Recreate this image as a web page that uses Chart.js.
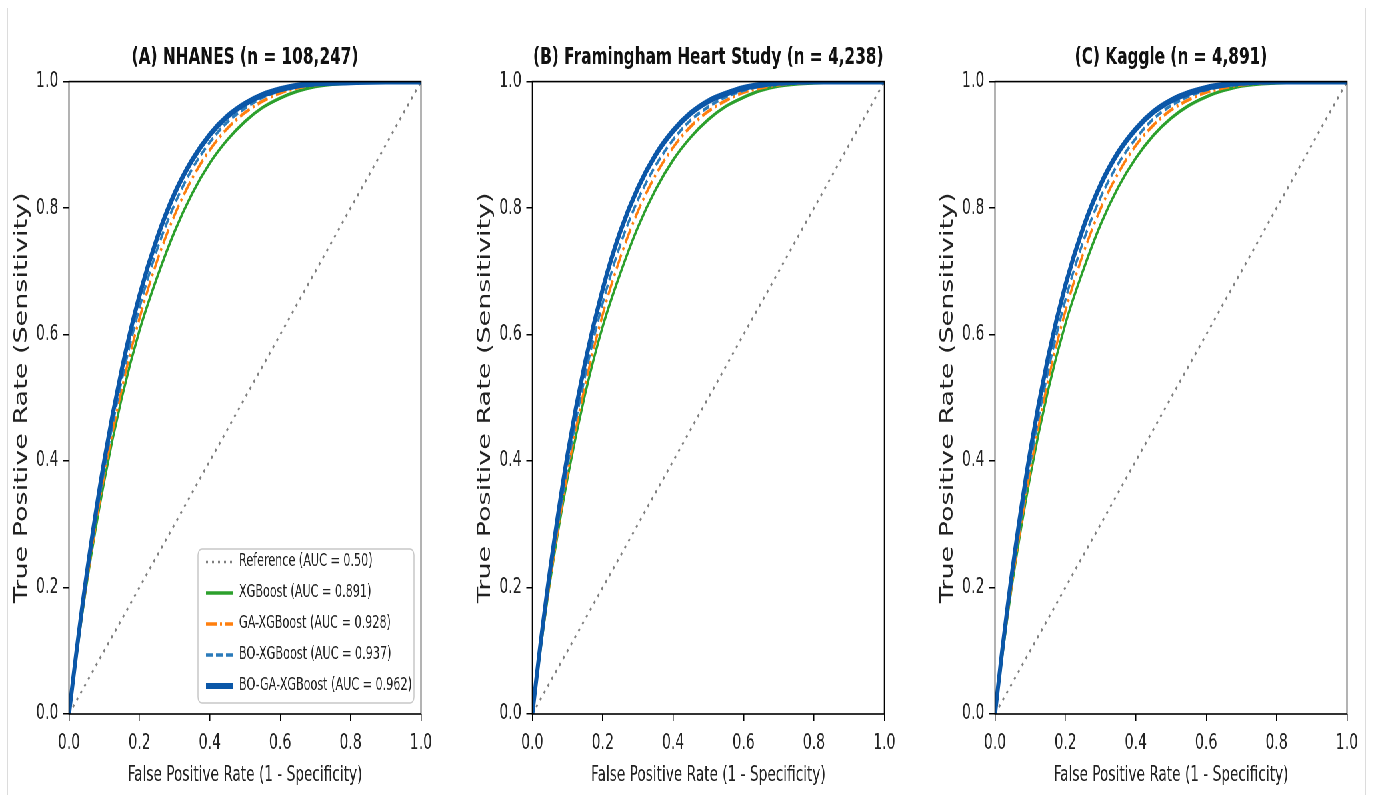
<!DOCTYPE html>
<html>
<head>
<meta charset="utf-8">
<title>ROC curves</title>
<script src="https://cdn.jsdelivr.net/npm/chart.js@4.4.1/dist/chart.umd.min.js"></script>
<style>
  html, body { margin: 0; padding: 0; background: #fff; overflow: hidden; }
  #page { position: relative; width: 1375px; height: 795px; overflow: hidden; background: #fff; }
  #squash { position: absolute; left: 0; top: 0; width: 2084px; height: 795px; transform: scaleX(0.6667); transform-origin: 0 0; }
  #squash canvas { position: absolute; top: 0; }
  .edge { position: absolute; top: 8px; bottom: 0; width: 1px; background: #dcdcdc; }
</style>
</head>
<body>
<div id="page">
  <div class="edge" style="left:7px"></div>
  <div class="edge" style="left:1365px"></div>
  <div id="squash">
    <canvas id="panelA" width="694" height="795" style="left:0px"></canvas>
    <canvas id="panelB" width="694" height="795" style="left:694.5px"></canvas>
    <canvas id="panelC" width="694" height="795" style="left:1389px"></canvas>
  </div>
</div>
<script>
// values
const fpr = [0, 0.02, 0.05, 0.1, 0.15, 0.2, 0.25, 0.3, 0.35, 0.4, 0.45, 0.5, 0.55, 0.6, 0.65, 0.7, 0.8, 0.9, 1.0];
const referenceFpr = [0, 1];
const referenceTpr = [0, 1];

const nhanesXgb = [0, 0.087, 0.205, 0.368, 0.5, 0.606, 0.69, 0.763, 0.823, 0.871, 0.908, 0.937, 0.959, 0.974, 0.985, 0.992, 0.998, 1, 1];
const nhanesGa = [0, 0.088, 0.207, 0.377, 0.514, 0.625, 0.716, 0.789, 0.847, 0.892, 0.926, 0.951, 0.969, 0.982, 0.99, 0.995, 0.999, 1, 1];
const nhanesBo = [0, 0.09, 0.212, 0.386, 0.528, 0.642, 0.734, 0.806, 0.862, 0.904, 0.936, 0.958, 0.975, 0.986, 0.992, 0.996, 0.999, 1, 1];
const nhanesBoGa = [0, 0.093, 0.22, 0.4, 0.545, 0.661, 0.752, 0.823, 0.876, 0.916, 0.945, 0.965, 0.979, 0.988, 0.994, 0.997, 0.999, 1, 1];

const framXgb = [0, 0.088, 0.208, 0.373, 0.506, 0.613, 0.697, 0.77, 0.829, 0.876, 0.912, 0.94, 0.961, 0.975, 0.986, 0.993, 0.998, 1, 1];
const framGa = [0, 0.09, 0.21, 0.381, 0.52, 0.632, 0.722, 0.795, 0.852, 0.896, 0.929, 0.953, 0.97, 0.983, 0.99, 0.995, 0.999, 1, 1];
const framBo = [0, 0.092, 0.216, 0.392, 0.535, 0.65, 0.742, 0.813, 0.867, 0.908, 0.939, 0.96, 0.976, 0.986, 0.993, 0.996, 0.999, 1, 1];
const framBoGa = [0, 0.096, 0.226, 0.41, 0.556, 0.672, 0.763, 0.832, 0.884, 0.922, 0.95, 0.969, 0.981, 0.99, 0.995, 0.998, 1, 1, 1];

const kaggleXgb = [0, 0.089, 0.21, 0.376, 0.51, 0.617, 0.701, 0.774, 0.833, 0.879, 0.915, 0.942, 0.962, 0.976, 0.986, 0.993, 0.998, 1, 1];
const kaggleGa = [0, 0.091, 0.213, 0.385, 0.525, 0.637, 0.727, 0.799, 0.855, 0.899, 0.931, 0.955, 0.971, 0.983, 0.99, 0.995, 0.999, 1, 1];
const kaggleBo = [0, 0.094, 0.22, 0.397, 0.54, 0.655, 0.746, 0.817, 0.87, 0.91, 0.941, 0.962, 0.977, 0.987, 0.993, 0.996, 0.999, 1, 1];
const kaggleBoGa = [0, 0.098, 0.23, 0.415, 0.562, 0.678, 0.768, 0.837, 0.888, 0.925, 0.952, 0.97, 0.982, 0.99, 0.995, 0.998, 1, 1, 1];

const modelNames = ["Reference", "XGBoost", "GA-XGBoost", "BO-XGBoost", "BO-GA-XGBoost"];
const aucValues = ["0.50", "0.891", "0.928", "0.937", "0.962"];
const panelTitles = ["(A) NHANES (n = 108,247)", "(B) Framingham Heart Study (n = 4,238)", "(C) Kaggle (n = 4,891)"];
const tickValues = [0, 0.2, 0.4, 0.6, 0.8, 1.0];
const tickLabels = ["0.0", "0.2", "0.4", "0.6", "0.8", "1.0"];

const lineColors = ["#7f7f7f", "#2ca02c", "#ff7f0e", "#2b7bba", "#0b57a8"];
const lineDashes = [[3, 6], [], [16, 5, 3, 5], [10, 5], []];
const lineWidths = [2.6, 3.4, 3.4, 3.4, 6];

Chart.defaults.font.family = "'DejaVu Sans', sans-serif";
Chart.defaults.color = "#222";

function points(xs, ys) {
  return xs.map((x, i) => ({ x: x, y: ys[i] }));
}

const frame = {
  id: "frame",
  afterDatasetsDraw(chart) {
    const { ctx, chartArea: a } = chart;
    ctx.save();
    ctx.strokeStyle = "#000";
    ctx.lineWidth = 1.6;
    ctx.strokeRect(a.left, a.top, a.right - a.left, a.bottom - a.top);
    ctx.restore();
  },
};

const boxLegend = {
  id: "boxLegend",
  afterDraw(chart, args, opts) {
    if (!opts.show) return;
    const { ctx, chartArea: a } = chart;
    const w = 324, h = 154;
    const x = a.right - 10.5 - w;
    const y = a.bottom - 11 - h;
    ctx.save();
    ctx.beginPath();
    ctx.roundRect(x, y, w, h, 6);
    ctx.fillStyle = "rgba(255,255,255,0.85)";
    ctx.fill();
    ctx.strokeStyle = "#c8c8c8";
    ctx.lineWidth = 1.5;
    ctx.stroke();
    ctx.font = "16.8px 'DejaVu Sans'";
    ctx.textBaseline = "middle";
    chart.data.datasets.forEach((ds, i) => {
      const ly = y + 13 + i * 31;
      ctx.beginPath();
      ctx.setLineDash(ds.borderDash);
      ctx.strokeStyle = ds.borderColor;
      ctx.lineWidth = ds.borderWidth;
      ctx.moveTo(x + 12, ly);
      ctx.lineTo(x + 52, ly);
      ctx.stroke();
      ctx.setLineDash([]);
      ctx.fillStyle = "#222";
      ctx.fillText(ds.label, x + 61.5, ly);
    });
    ctx.restore();
  },
};

function makePanel(id, title, curves, showLegend) {
  const series = [points(referenceFpr, referenceTpr)].concat(curves.map((c) => points(fpr, c)));
  const datasets = series.map((data, i) => ({
    label: `${modelNames[i]} (AUC = ${aucValues[i]})`,
    data: data,
    borderColor: lineColors[i],
    borderDash: lineDashes[i],
    borderWidth: lineWidths[i],
    pointRadius: 0,
    cubicInterpolationMode: "monotone",
    order: series.length - 1 - i,
  }));

  new Chart(document.getElementById(id), {
    type: "line",
    data: { datasets: datasets },
    options: {
      responsive: false,
      animation: false,
      layout: { padding: { left: 0, right: 62.5, top: 0, bottom: 0 } },
      plugins: {
        legend: { display: false },
        tooltip: { enabled: false },
        title: {
          display: true,
          text: title,
          fullSize: false,
          color: "#111",
          font: { size: 23, weight: "bold" },
          padding: { top: 44, bottom: 10 },
        },
        boxLegend: { show: showLegend },
      },
      scales: {
        x: {
          type: "linear",
          min: 0,
          max: 1,
          afterBuildTicks: (s) => { s.ticks = tickValues.map((v) => ({ value: v })); },
          afterFit: (s) => { s.height = 81; },
          ticks: { callback: (v, i) => tickLabels[i], font: { size: 21 }, padding: 10, maxRotation: 0 },
          grid: { drawOnChartArea: false, drawTicks: true, tickLength: 7, color: "#000", lineWidth: 1.5 },
          border: { display: false },
          title: { display: true, text: "False Positive Rate (1 - Specificity)", font: { size: 20.5 }, padding: { top: 0, bottom: 7 } },
        },
        y: {
          type: "linear",
          min: 0,
          max: 1,
          afterBuildTicks: (s) => { s.ticks = tickValues.map((v) => ({ value: v })); },
          afterFit: (s) => { s.width = 103.5; },
          ticks: { callback: (v, i) => tickLabels[i], font: { size: 21 }, padding: 7 },
          grid: { drawOnChartArea: false, drawTicks: true, tickLength: 9, color: "#000", lineWidth: 1.5 },
          border: { display: false },
          title: { display: true, text: "True Positive Rate (Sensitivity)", font: { size: 27 }, padding: { top: 17, bottom: 0 } },
        },
      },
    },
    plugins: [frame, boxLegend],
  });
}

makePanel("panelA", panelTitles[0], [nhanesXgb, nhanesGa, nhanesBo, nhanesBoGa], true);
makePanel("panelB", panelTitles[1], [framXgb, framGa, framBo, framBoGa], false);
makePanel("panelC", panelTitles[2], [kaggleXgb, kaggleGa, kaggleBo, kaggleBoGa], false);
</script>
</body>
</html>
